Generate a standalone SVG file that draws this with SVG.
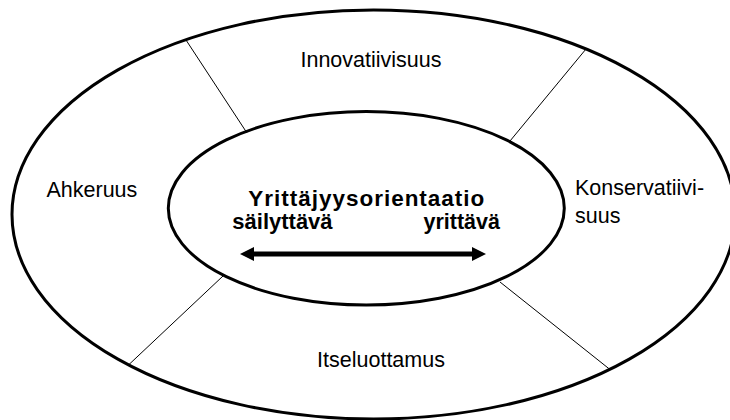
<svg xmlns="http://www.w3.org/2000/svg" width="730" height="420" viewBox="0 0 730 420">
<style>
.ring{fill:none;stroke:#000;stroke-width:3}
.div{stroke:#000;stroke-width:1;fill:none}
.lbl{font-family:"Liberation Sans",Arial,Helvetica,sans-serif;font-size:21.5px;fill:#000}
.bold{font-family:"Liberation Sans",Arial,Helvetica,sans-serif;font-weight:bold;fill:#000}
.arrow{stroke:#000;stroke-width:5;fill:none}
</style>
<defs>
<marker id="head" viewBox="0 0 14 14" markerWidth="14" markerHeight="14" refX="8" refY="7" markerUnits="userSpaceOnUse" orient="auto-start-reverse">
<path d="M0,0 L14,7 L0,14 z" fill="#000"/>
</marker>
</defs>
<rect width="730" height="420" fill="#fff"/>
<g id="outer">
<ellipse class="ring" cx="373.6" cy="214.5" rx="361.6" ry="204.5"/>
</g>
<g id="connectors">
<line class="div" x1="186" y1="40" x2="247" y2="133"/>
<line class="div" x1="586" y1="49" x2="510" y2="141"/>
<line class="div" x1="223" y1="276" x2="129" y2="364.5"/>
<line class="div" x1="500" y1="282" x2="610" y2="369.5"/>
<line class="arrow" x1="246" y1="254" x2="480" y2="254" marker-start="url(#head)" marker-end="url(#head)"/>
</g>
<g id="inner">
<ellipse class="ring" cx="366.3" cy="208.3" rx="198" ry="96.7"/>
<text class="bold" x="248.3" y="206" font-size="22.5" textLength="236" lengthAdjust="spacing">Yrittäjyysorientaatio</text>
<text class="bold" x="232.3" y="229" font-size="22">säilyttävä</text>
<text class="bold" x="500" y="229" font-size="21.5" text-anchor="end">yrittävä</text>
</g>
<g id="innovatiivisuus">
<text class="lbl" x="371" y="66.5" text-anchor="middle">Innovatiivisuus</text>
</g>
<g id="ahkeruus">
<text class="lbl" x="46.5" y="197">Ahkeruus</text>
</g>
<g id="konservatiivisuus">
<text class="lbl" x="575" y="195">Konservatiivi-</text>
<text class="lbl" x="575" y="223">suus</text>
</g>
<g id="itseluottamus">
<text class="lbl" x="381" y="367" text-anchor="middle">Itseluottamus</text>
</g>
</svg>
